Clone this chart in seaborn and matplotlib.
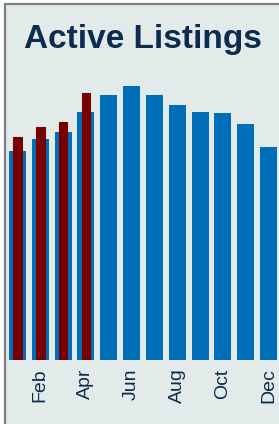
import numpy as np
import pandas as pd
import matplotlib
matplotlib.use("Agg")
import matplotlib.pyplot as plt
import seaborn as sns
from matplotlib.patches import Rectangle

# data
months = ["Jan", "Feb", "Mar", "Apr", "May", "Jun",
          "Jul", "Aug", "Sep", "Oct", "Nov", "Dec"]
prior_year = [2090, 2210, 2280, 2480, 2650, 2740, 2650, 2550, 2480, 2470, 2360, 2130]
this_year = [2230, 2330, 2380, 2670, 0, 0, 0, 0, 0, 0, 0, 0]
shown_ticks = ["Feb", "Apr", "Jun", "Aug", "Oct", "Dec"]

bg = "#e3ebea"
blue = "#006eb8"
red = "#780000"
navy = "#0d2d50"

sns.set_theme(style="white")
plt.rcParams["font.family"] = ["Liberation Sans", "DejaVu Sans"]

fig = plt.figure(figsize=(2.79, 4.24), dpi=100)
fig.patch.set_facecolor("white")

# panel with grey frame on left/top
fig.patches.append(Rectangle((4.5 / 279, -0.1), 1.2, (424 - 4.5) / 424 + 0.1,
                             transform=fig.transFigure, facecolor=bg,
                             edgecolor="#7f7f7f", linewidth=1.6, zorder=-10))

ax = fig.add_axes([6 / 279, 64 / 424, 274 / 279, 300 / 424])
ax.set_facecolor("none")

df = pd.DataFrame({"month": months, "prior": prior_year, "current": this_year})

sns.barplot(data=df, x="month", y="prior", color=blue, saturation=1,
            width=0.75, ax=ax, zorder=2, linewidth=0)
sns.barplot(data=df, x="month", y="current", color=red, saturation=1,
            width=0.38, ax=ax, zorder=3, edgecolor=red, linewidth=0.8)

ax.set_ylim(0, 3000)
ax.set_xlim(-0.5, 11.5)
ax.set_xlabel("")
ax.set_ylabel("")
ax.set_yticks([])
ax.set_xticks([months.index(m) for m in shown_ticks])
ax.set_xticklabels(shown_ticks, rotation=90, fontsize=14, color=navy)
ax.tick_params(axis="x", length=0, pad=6)
sns.despine(ax=ax, left=True, bottom=True)

fig.text(142.5 / 279, (424 - 48) / 424, "Active Listings", ha="center",
         va="baseline", fontsize=24, fontweight="bold", color=navy)

fig.savefig("out.png", dpi=100, facecolor=fig.get_facecolor())
